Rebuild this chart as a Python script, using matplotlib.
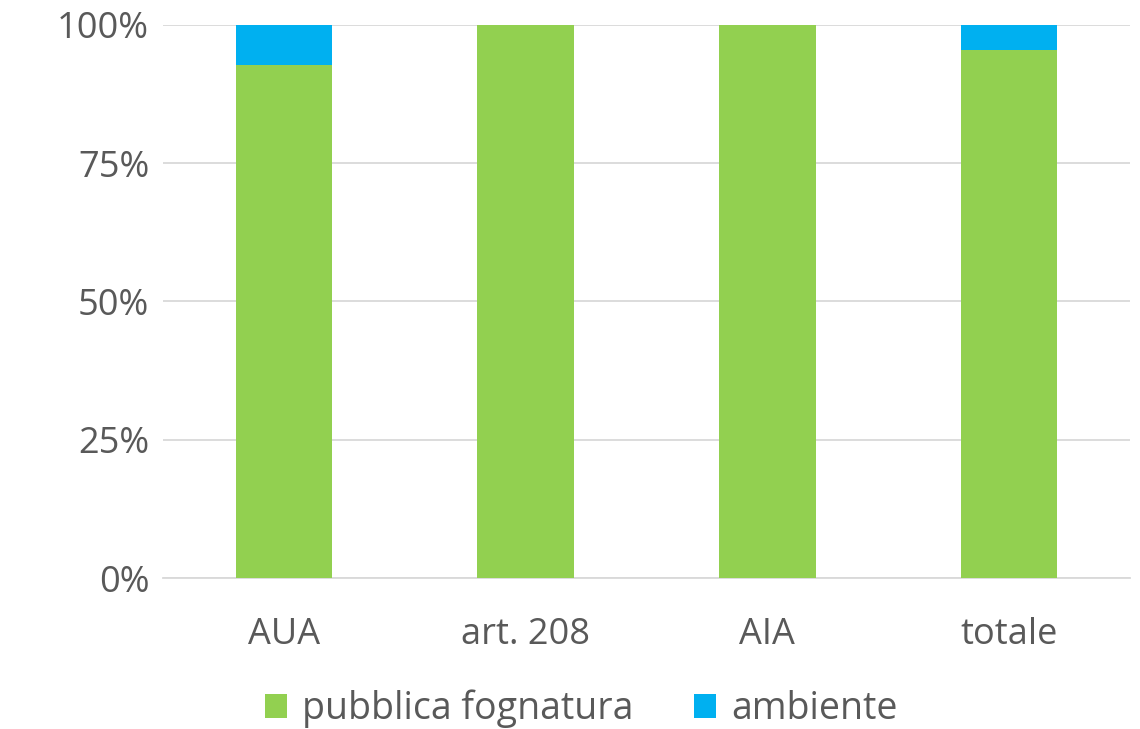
import numpy as np
import matplotlib
matplotlib.use("Agg")
import matplotlib.pyplot as plt
from matplotlib.ticker import FuncFormatter

plt.rcParams['font.family'] = ['Open Sans', 'DejaVu Sans']

# data (shares, %)
categories = ['AUA', 'art. 208', 'AIA', 'totale']
fognatura = [92.8, 100.0, 100.0, 95.4]
ambiente = [7.2, 0.0, 0.0, 4.6]

green = '#92D050'
blue = '#00B0F0'
text_col = '#595959'

fig = plt.figure(figsize=(11.4, 7.29), dpi=100)
ax = fig.add_axes([0.143, 0.207, 0.848, 0.759])

x = np.arange(len(categories))
ax.bar(x, fognatura, width=0.4, color=green, label='pubblica fognatura', zorder=3)
ax.bar(x, ambiente, width=0.4, bottom=fognatura, color=blue, label='ambiente', zorder=3)

ax.set_xlim(-0.5, len(categories) - 0.5)
ax.set_ylim(0, 100)
ax.set_yticks([0, 25, 50, 75, 100])
ax.yaxis.set_major_formatter(FuncFormatter(lambda v, p: f'{int(v)}%'))
ax.set_xticks(x)
ax.set_xticklabels(categories)

ax.grid(axis='y', color='#D9D9D9', linewidth=1.3, zorder=0)
for s in ['top', 'right', 'left']:
    ax.spines[s].set_visible(False)
ax.spines['bottom'].set_color('#D9D9D9')
ax.spines['bottom'].set_linewidth(1.3)
ax.tick_params(axis='both', length=0, labelsize=26, colors=text_col)
ax.tick_params(axis='x', pad=28)
ax.tick_params(axis='y', pad=10)

fig.legend(loc='center', bbox_to_anchor=(0.51, 0.028), ncol=2, frameon=False,
           fontsize=27, labelcolor=text_col, handlelength=0.6, handleheight=0.6,
           handletextpad=0.4, columnspacing=1.6)

fig.savefig('out.png', dpi=100)
